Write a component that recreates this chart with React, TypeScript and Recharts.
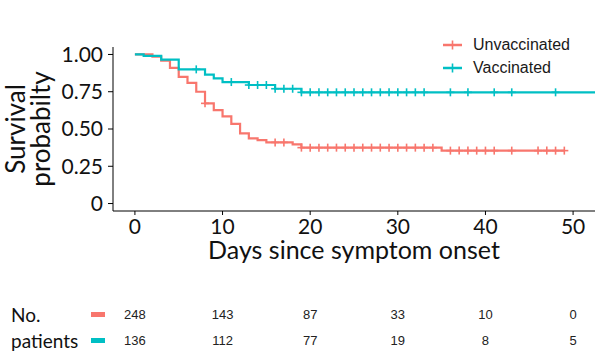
import { LineChart, Line, XAxis, YAxis, Label, ScatterChart, Scatter } from "recharts";

const RED = "#F8766D";
const TEAL = "#00BFC4";

// Kaplan-Meier steps (time in days, survival probability)
const unvacTimes = [0, 2, 3, 4, 5, 6, 7, 8, 9, 10, 11, 12, 13, 14, 15, 18, 19, 35];
const unvacSurv = [1, 0.985, 0.958, 0.91, 0.85, 0.81, 0.75, 0.672, 0.627, 0.585, 0.535, 0.47, 0.437, 0.425, 0.41, 0.397, 0.375, 0.355];
const unvacCensor = [8, 16, 17, 19, 20, 21, 22, 23, 24, 25, 26, 27, 28, 29, 30, 31, 32, 33, 34, 36, 37, 38, 39, 40, 41, 43, 46, 47, 48, 49];

const vacTimes = [0, 1, 3, 5, 8, 9, 10, 13, 16, 19, 52.5];
const vacSurv = [1, 0.99, 0.965, 0.9, 0.865, 0.84, 0.815, 0.795, 0.77, 0.746, 0.746];
const vacCensor = [7, 11, 13, 14, 15, 16, 17, 18, 19, 20, 21, 22, 23, 24, 25, 26, 27, 28, 29, 30, 31, 32, 33, 36, 38, 41, 43, 48];

// number at risk table
const riskDays = [0, 10, 20, 30, 40, 50];
const unvacAtRisk = [248, 143, 87, 33, 10, 0];
const vacAtRisk = [136, 112, 77, 19, 8, 5];

const groupNames = ["Unvaccinated", "Vaccinated"];
const groupColors = [RED, TEAL];
const rowLabels = ["No.", "patients"];

const xTicks = [0, 10, 20, 30, 40, 50];
const yTicks = [0, 0.25, 0.5, 0.75, 1];

type Pt = { t: number; s: number; c: boolean };

function buildSeries(times: number[], surv: number[], censor: number[]): Pt[] {
  const pts: Pt[] = times.map((t, i) => ({ t, s: surv[i], c: false }));
  censor.forEach((t) => {
    let s = surv[0];
    times.forEach((et, i) => {
      if (et <= t) s = surv[i];
    });
    pts.push({ t, s, c: true });
  });
  pts.sort((a, b) => a.t - b.t || Number(a.c) - Number(b.c));
  return pts;
}

const unvac = buildSeries(unvacTimes, unvacSurv, unvacCensor);
const vac = buildSeries(vacTimes, vacSurv, vacCensor);

const unvacRisk = riskDays.map((t, i) => ({ t, row: 0, n: unvacAtRisk[i] }));
const vacRisk = riskDays.map((t, i) => ({ t, row: 1, n: vacAtRisk[i] }));

const censorDot = (color: string) => (props: any) => {
  const { cx, cy, payload, index } = props;
  if (!payload || !payload.c) return <g key={`e-${index}`} />;
  return (
    <g key={`c-${index}`}>
      <line x1={cx} x2={cx} y1={cy - 4} y2={cy + 4} stroke={color} strokeWidth={1.6} />
      <line x1={cx - 4} x2={cx + 4} y1={cy} y2={cy} stroke={color} strokeWidth={1.6} />
    </g>
  );
};

const YTitle = (props: any) => {
  const vb = props.viewBox;
  const cy = vb.y + vb.height / 2;
  return (
    <text transform={`translate(0, ${cy}) rotate(-90)`} textAnchor="middle" fontFamily="Lato" fontSize={26} fill="#111">
      <tspan x={0} y={25}>Survival</tspan>
      <tspan x={0} y={50}>probabilty</tspan>
    </text>
  );
};

const XTitle = (props: any) => {
  const vb = props.viewBox;
  return (
    <text x={vb.x + vb.width / 2} y={vb.y + 48} textAnchor="middle" fontFamily="Lato" fontSize={25} fill="#111">
      Days since symptom onset
    </text>
  );
};

const LegendBox = () => (
  <div
    style={{
      position: "absolute",
      left: 440,
      top: 33,
      width: 150,
      fontFamily: "Liberation Sans, Arial",
      fontSize: 16,
      color: "#1a1a1a",
    }}
  >
    {groupNames.map((name, i) => (
      <div key={name} style={{ display: "flex", alignItems: "center", height: 23 }}>
        <svg width={24} height={12}>
          <line x1={3} x2={22} y1={6} y2={6} stroke={groupColors[i]} strokeWidth={2.5} />
          <line x1={12.5} x2={12.5} y1={1.5} y2={10.5} stroke={groupColors[i]} strokeWidth={1.6} />
        </svg>
        <span style={{ marginLeft: 9 }}>{name}</span>
      </div>
    ))}
  </div>
);

const RiskTick = (props: any) => {
  const { y, payload } = props;
  const i = payload.value;
  return (
    <g>
      <text x={11} y={y} dominantBaseline="central" fontFamily="Lato" fontSize={19} fill="#111">
        {rowLabels[i]}
      </text>
      <rect x={91} y={y - 2.5} width={14} height={5} fill={groupColors[i]} />
    </g>
  );
};

const RiskNum = (props: any) => {
  const { cx, cy, payload } = props;
  return (
    <text x={cx} y={cy} textAnchor="middle" dominantBaseline="central" fontFamily="Liberation Sans, Arial" fontSize={13} fill="#222">
      {payload.n}
    </text>
  );
};

export default function App() {
  return (
    <div style={{ width: 600, height: 363, background: "#fff", position: "relative" }}>
      <style>{"body{margin:0}"}</style>
      <LineChart width={600} height={272} margin={{ top: 47, right: 5, bottom: 0, left: 0 }}>
        <XAxis
          type="number"
          dataKey="t"
          domain={[-2.5, 52.5]}
          ticks={xTicks}
          interval={0}
          allowDataOverflow
          height={61}
          tickSize={4}
          tickMargin={4}
          stroke="#000"
          tick={{ fill: "#111", fontSize: 21, fontFamily: "Lato" }}
        >
          <Label content={XTitle} />
        </XAxis>
        <YAxis
          type="number"
          domain={[-0.05, 1.05]}
          ticks={yTicks}
          interval={0}
          allowDataOverflow
          width={113}
          tickSize={5}
          tickMargin={5}
          stroke="#000"
          tickFormatter={(v: number) => (v === 0 ? "0" : v.toFixed(2))}
          tick={{ fill: "#111", fontSize: 21, fontFamily: "Lato" }}
        >
          <Label content={YTitle} />
        </YAxis>
        <Line
          data={unvac}
          dataKey="s"
          name="Unvaccinated"
          type="stepAfter"
          stroke={RED}
          strokeWidth={2.2}
          dot={censorDot(RED)}
          activeDot={false}
          isAnimationActive={false}
        />
        <Line
          data={vac}
          dataKey="s"
          name="Vaccinated"
          type="stepAfter"
          stroke={TEAL}
          strokeWidth={2.2}
          dot={censorDot(TEAL)}
          activeDot={false}
          isAnimationActive={false}
        />
      </LineChart>
      <LegendBox />
      <ScatterChart width={600} height={91} margin={{ top: 29.5, right: 5, bottom: 9.5, left: 0 }}>
        <XAxis type="number" dataKey="t" domain={[-2.5, 52.5]} hide />
        <YAxis
          type="number"
          dataKey="row"
          domain={[-0.5, 1.5]}
          ticks={[0, 1]}
          interval={0}
          reversed
          width={113}
          axisLine={false}
          tickLine={false}
          tick={RiskTick}
        />
        <Scatter data={unvacRisk} shape={RiskNum} isAnimationActive={false} />
        <Scatter data={vacRisk} shape={RiskNum} isAnimationActive={false} />
      </ScatterChart>
    </div>
  );
}
